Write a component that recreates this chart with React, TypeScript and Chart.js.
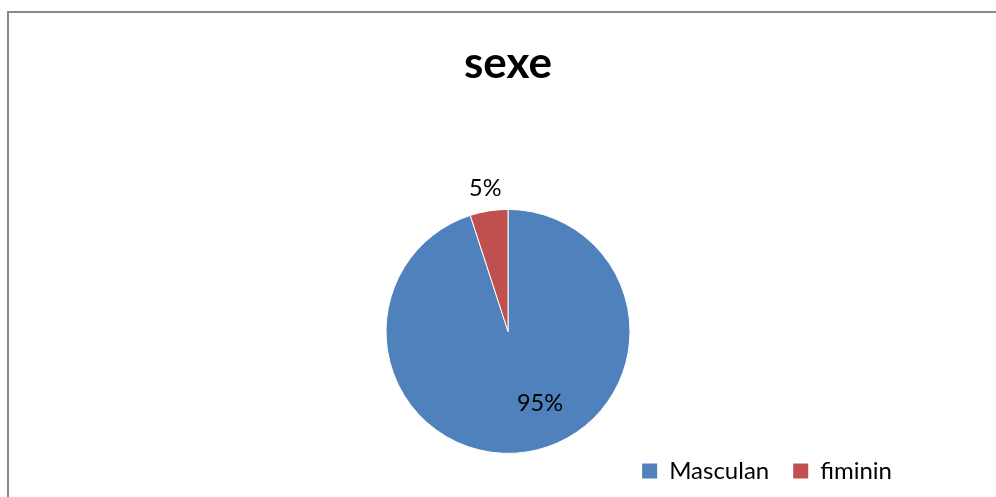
import React, { useEffect, useRef } from "react";
import { Chart, registerables } from "chart.js";

Chart.register(...registerables);

const categories = ["Masculan", "fiminin"];
const values = [95, 5];
const pointLabels = ["95%", "5%"];
const colors = ["#4F81BD", "#C0504D"];
// label placement relative to each slice: fraction of radius and angular shift (degrees)
const labelRadiusFrac = [0.645, 1.19];
const labelAngleShift = [-15, 0];

const FONT = "Lato, 'Open Sans', sans-serif";

const framePlugin = {
  id: "frame",
  beforeDraw(chart: any) {
    const ctx = chart.ctx;
    ctx.save();
    ctx.fillStyle = "#ffffff";
    ctx.fillRect(0, 0, chart.width, chart.height);
    ctx.strokeStyle = "#898989";
    ctx.lineWidth = 2;
    ctx.beginPath();
    ctx.moveTo(8, chart.height + 5);
    ctx.lineTo(8, 12);
    ctx.lineTo(chart.width + 5, 12);
    ctx.stroke();
    ctx.restore();
  },
};

const labelPlugin = {
  id: "sliceLabels",
  afterDatasetsDraw(chart: any) {
    const ctx = chart.ctx;
    const meta = chart.getDatasetMeta(0);
    ctx.save();
    ctx.font = `23.5px ${FONT}`;
    ctx.fillStyle = "#000000";
    ctx.textAlign = "center";
    ctx.textBaseline = "middle";
    meta.data.forEach((arc: any, i: number) => {
      const { x, y, startAngle, endAngle, outerRadius } = arc.getProps(
        ["x", "y", "startAngle", "endAngle", "outerRadius"],
        true
      );
      const mid = (startAngle + endAngle) / 2 + (labelAngleShift[i] * Math.PI) / 180;
      const r = outerRadius * labelRadiusFrac[i];
      ctx.fillText(pointLabels[i], x + Math.cos(mid) * r, y + Math.sin(mid) * r);
    });
    ctx.restore();
  },
};

export default function App() {
  const ref = useRef<HTMLCanvasElement | null>(null);
  useEffect(() => {
    if (!ref.current) return;
    const baseGen = (Chart as any).overrides.pie.plugins.legend.labels.generateLabels;
    const chart = new Chart(ref.current, {
      type: "pie",
      data: {
        labels: categories,
        datasets: [
          {
            data: values,
            backgroundColor: colors,
            borderColor: "#ffffff",
            borderWidth: 1,
            radius: 122,
          },
        ],
      },
      options: {
        responsive: false,
        animation: false,
        layout: { padding: { left: 100, right: 80, top: 0, bottom: 4 } },
        plugins: {
          title: {
            display: true,
            text: "sexe",
            color: "#000000",
            font: { family: FONT, size: 44, weight: "bold" },
            padding: { top: 37, bottom: 138 },
          },
          legend: {
            display: true,
            position: "bottom",
            align: "end",
            labels: {
              color: "#000000",
              font: { family: FONT, size: 24 },
              boxWidth: 15,
              boxHeight: 15,
              padding: 24,
              generateLabels: (c: any) =>
                baseGen(c).map((l: any) => ({ ...l, lineWidth: 0, strokeStyle: l.fillStyle })),
            },
          },
          tooltip: { enabled: false },
        },
      },
      plugins: [framePlugin, labelPlugin],
    });
    return () => chart.destroy();
  }, []);
  return (
    <div style={{ position: "fixed", left: 0, top: 0, width: "996px", height: "497px", background: "#fff" }}>
      <canvas ref={ref} width={996} height={497} style={{ display: "block" }} />
    </div>
  );
}
